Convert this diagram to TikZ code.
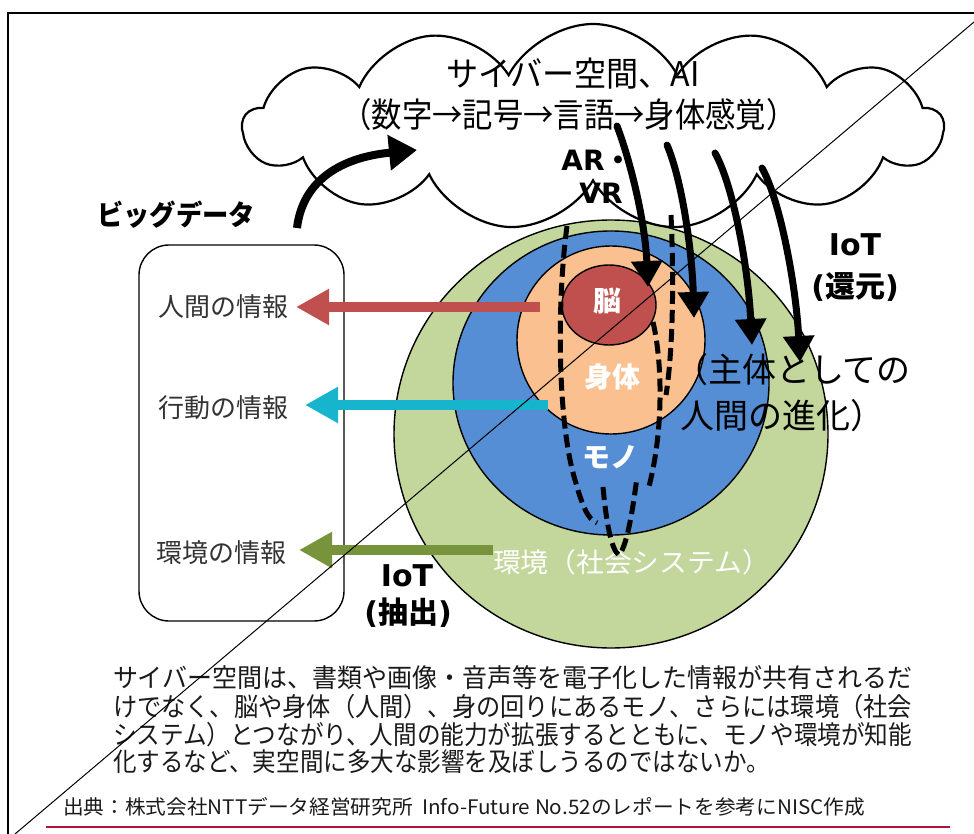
\documentclass[tikz,border=0pt]{standalone}
\usepackage{fontspec}
\usepackage{graphicx}
\setmainfont{Noto Sans CJK JP}
\newfontfamily\vfont{DejaVu Sans}
\usetikzlibrary{arrows.meta,shapes.symbols,shapes.geometric}
\definecolor{envgreen}{HTML}{C3D69B}
\definecolor{thingblue}{HTML}{558ED5}
\definecolor{bodyorange}{HTML}{FAC090}
\definecolor{brainred}{HTML}{C0504D}
\definecolor{arrowcyan}{HTML}{17B5CD}
\definecolor{arrowgreen}{HTML}{77933C}
\definecolor{footred}{HTML}{B0123A}
\definecolor{labelgray}{HTML}{333333}
\definecolor{bodytext}{HTML}{1A1A1A}
\newcommand\fitw[2]{\resizebox{#1}{\height}{#2}}
\newcommand\fs[1]{\fontsize{#1}{#1}\selectfont}
\begin{document}
\begin{tikzpicture}[x=1pt,y=-1pt,
  ring/.style={draw=black,line width=1.4pt,inner sep=0pt,outer sep=0pt},
  flowarrow/.style={line width=10pt,-{Triangle[length=33pt,width=34pt]}},
  iotarrow/.style={line width=7pt,line cap=round,-{Triangle[length=26pt,width=30pt]}},
  dashline/.style={line width=5pt,dash pattern=on 13pt off 6pt},
  txt/.style={inner sep=0pt,outer sep=0pt},
  wlbl/.style={txt,text=white,font=\bfseries\fs{28}},
  boxlbl/.style={txt,anchor=west,text=labelgray,font=\fs{26}},
  bodyline/.style={txt,anchor=west,text=bodytext,font=\fs{26}},
  boldlbl/.style={txt,text=black,font=\bfseries\fs{30}},
]
\useasboundingbox (0,0) rectangle (974,834);

% frame
\coordinate (fbl) at (8,834);
\coordinate (ftl) at (8,13);
\coordinate (ftr) at (974,13);
\draw[line width=2.5pt] (fbl) -- (ftl) -- (ftr);

% nested circles
\node[ring,ellipse,fill=envgreen,minimum width=434pt,minimum height=428pt] (env) at (611,434) {};
\node[ring,ellipse,fill=thingblue,minimum width=316pt,minimum height=304pt] (thing) at (611,383) {};
\node[ring,circle,fill=bodyorange,minimum size=188pt] (body) at (611,340) {};
\node[ring,ellipse,fill=brainred,minimum width=94pt,minimum height=80pt] (brain) at (609,305) {};

% labels inside circles
\node[wlbl] (brainlbl) at (607,301) {脳};
\node[wlbl] (bodylbl) at (612,377) {身体};
\node[wlbl] (thinglbl) at (610,457) {モノ};
\node[txt,anchor=west,text=white,font=\fs{27}] (envlbl) at (493,562) {\fitw{277pt}{環境（社会システム）}};

% left box
\node[draw=black,line width=1.4pt,rounded corners=30pt,minimum width=205pt,minimum height=376pt,inner sep=0pt] (bigbox) at (241.5,433) {};
\node[boxlbl] (info1) at (158,307) {人間の情報};
\node[boxlbl] (info2) at (158,408) {行動の情報};
\node[boxlbl] (info3) at (156,553) {環境の情報};

% coloured extraction arrows
\coordinate (r1s) at (540,307);
\coordinate (r1e) at (296,307);
\coordinate (r2s) at (548,405);
\coordinate (r2e) at (305,405);
\coordinate (r3s) at (493,550);
\coordinate (r3e) at (299,550);
\draw[flowarrow,draw=brainred,fill=brainred] (r1s) -- (r1e);
\draw[flowarrow,draw=arrowcyan,fill=arrowcyan] (r2s) -- (r2e);
\draw[flowarrow,draw=arrowgreen,fill=arrowgreen] (r3s) -- (r3e);

% cloud
\node[cloud,cloud puffs=13,cloud puff arc=125,cloud ignores aspect,draw=black,line width=2.2pt,fill=white,minimum width=700pt,minimum height=206pt,inner sep=0pt] (cloud) at (593,127) {};
\node[txt,font=\fs{34}] (ct1) at (573,74) {\fitw{253pt}{サイバー空間、AI}};
\node[txt,font=\fs{34}] (ct2) at (569,115) {\fitw{455pt}{（数字→記号→言語→身体感覚）}};

% big data arrow
\node[txt,font=\bfseries\fs{28}] (bigdata) at (176,215) {\fitw{158pt}{ビッグデータ}};
\coordinate (bdtail) at (297,228);
\coordinate (bdtip) at (417,150);
\draw[line width=8pt,-{Triangle[length=28pt,width=34pt]}] (bdtail) .. controls (302,185) and (335,158) .. (bdtip);

% AR VR
\node[txt,font=\bfseries\fs{28}] (ar) at (597,160) {{\vfont\bfseries AR}・};
\node[txt,font=\vfont\bfseries\fs{28}] (vr) at (601,193) {VR};

% IoT return arrows
\coordinate (a1s) at (617,126);
\coordinate (a1e) at (648,287);
\coordinate (a2s) at (667,145);
\coordinate (a2e) at (694,318);
\coordinate (a3s) at (715,153);
\coordinate (a3e) at (752,345);
\coordinate (a4s) at (762,168);
\coordinate (a4e) at (800,362);
\draw[iotarrow] (a1s) .. controls (630,160) and (645,220) .. (a1e);
\draw[iotarrow] (a2s) .. controls (682,180) and (692,250) .. (a2e);
\draw[iotarrow] (a3s) .. controls (733,185) and (748,265) .. (a3e);
\draw[iotarrow] (a4s) .. controls (780,200) and (796,285) .. (a4e);

% dashed loops
\draw[dashline] (567,226) .. controls (557,300) and (557,420) .. (575,480) .. controls (582,505) and (588,520) .. (597,523);
\draw[dashline] (603,487) .. controls (606,520) and (611,550) .. (619,555) .. controls (628,545) and (634,500) .. (637,477);
\draw[dashline] (653,322) .. controls (664,370) and (662,440) .. (648,490);
\draw[dashline] (671,215) .. controls (674,280) and (673,350) .. (666,395);

% IoT labels
\node[boldlbl,font=\vfont\bfseries\fs{30}] (iotr) at (855,245) {IoT};
\node[boldlbl] (iotr2) at (855,287) {{\vfont\bfseries(}還元{\vfont\bfseries)}};
\node[boldlbl,font=\vfont\bfseries\fs{30}] (iotx) at (407,576) {IoT};
\node[boldlbl] (iotx2) at (408,613) {{\vfont\bfseries(}抽出{\vfont\bfseries)}};

% evolution text
\node[txt,anchor=west,font=\fs{34}] (evo1) at (674,370) {（主体としての};
\node[txt,anchor=west,font=\fs{34}] (evo2) at (680,416) {人間の進化）};

% body text
\node[bodyline] (p1) at (113,678) {\fitw{799pt}{サイバー空間は、書類や画像・音声等を電子化した情報が共有されるだ}};
\node[bodyline] (p2) at (113,707) {\fitw{799pt}{けでなく、脳や身体（人間）、身の回りにあるモノ、さらには環境（社会}};
\node[bodyline] (p3) at (113,735) {\fitw{799pt}{システム）とつながり、人間の能力が拡張するとともに、モノや環境が知能}};
\node[bodyline] (p4) at (113,762) {\fitw{657pt}{化するなど、実空間に多大な影響を及ぼしうるのではないか。}};

% source
\node[txt,anchor=west,text=bodytext,font=\fs{20}] (src) at (63,807) {\fitw{802pt}{出典：株式会社NTTデータ経営研究所\ \ Info-Future No.52のレポートを参考にNISC作成}};
\coordinate (fl1) at (46,827);
\coordinate (fl2) at (950,827);
\draw[footred,line width=2.5pt] (fl1) -- (fl2);

% diagonal
\coordinate (dg1) at (15,834);
\coordinate (dg2) at (974,22);
\draw[line width=1pt] (dg1) -- (dg2);
\end{tikzpicture}
\end{document}
